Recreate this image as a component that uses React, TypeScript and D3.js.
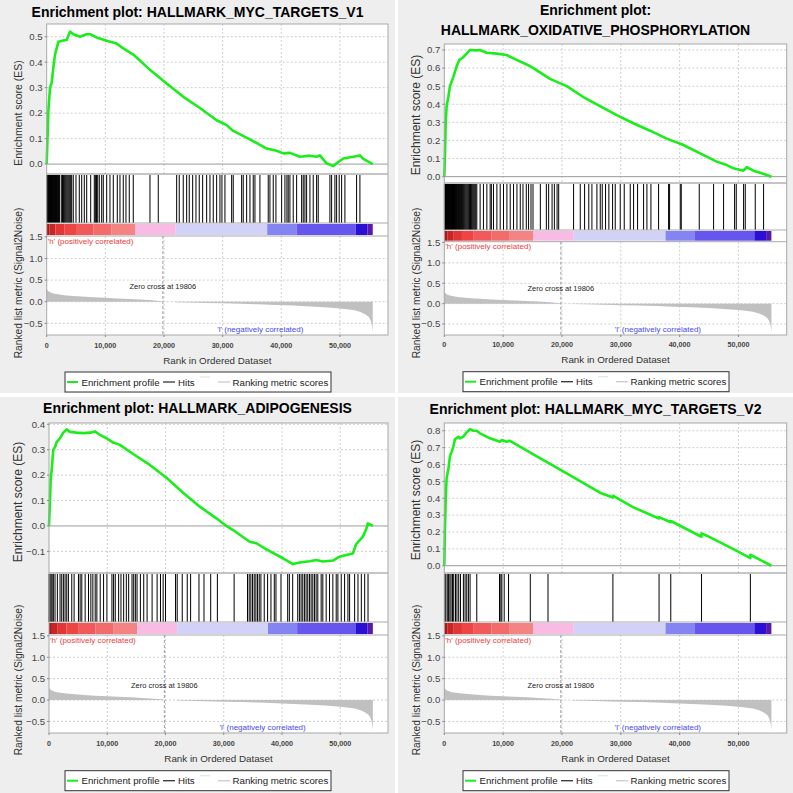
import React from 'react';
import * as d3 from 'd3';

const FONT = "'Liberation Sans', Arial, sans-serif";
const X_MAX = 58200;
const N_GENES = 55600;
const ZERO_CROSS = 19806;
const xTickValues = [0, 10000, 20000, 30000, 40000, 50000];
const metricTickValues = [1.5, 1.0, 0.5, 0.0, -0.5];
const metricDomain: [number, number] = [-0.77, 1.52];

// Ranked list metric (Signal2Noise), shared by all panels
const metricRanks = [0, 150, 400, 800, 1300, 2000, 3000, 4500, 6000, 8000, 10000, 12000, 14000, 16000, 18000, 19700, 19806, 21900, 22000, 24000, 27000, 30000, 33000, 36000, 39000, 42000, 45000, 48000, 50000, 51500, 52500, 53500, 54300, 54900, 55200, 55400, 55500, 55600];
const metricValues = [0.30, 0.26, 0.23, 0.205, 0.185, 0.17, 0.152, 0.135, 0.12, 0.103, 0.09, 0.077, 0.064, 0.05, 0.033, 0.012, 0.0, 0.0, -0.01, -0.017, -0.027, -0.037, -0.048, -0.06, -0.074, -0.09, -0.108, -0.135, -0.155, -0.18, -0.2, -0.24, -0.29, -0.35, -0.42, -0.5, -0.58, -0.7];

// Colour bar of the ranked list
const barStarts = [0, 500, 1500, 3000, 5000, 8000, 11000, 15150, 22000, 37600, 42600, 52700, 54700];
const barColors = ['#a81818', '#c82626', '#e03636', '#ee4444', '#f05a5a', '#f26c6c', '#f48484', '#f8bce4', '#d2d2f8', '#8484f2', '#6656ee', '#2a10d4', '#5a1aa8'];

// HALLMARK_MYC_TARGETS_V1
const myc1EsRanks = [0, 284, 568, 852, 1136, 1420, 1989, 2841, 3409, 3977, 4545, 5682, 6818, 7386, 8523, 10227, 11932, 13068, 14773, 17614, 20455, 23295, 26136, 28977, 30682, 31818, 34659, 37500, 39205, 40341, 41477, 43182, 44886, 46023, 46591, 47727, 48864, 49432, 50568, 52273, 53409, 53977, 55600];
const myc1EsValues = [0, 0.21, 0.30, 0.32, 0.38, 0.43, 0.48, 0.485, 0.487, 0.52, 0.51, 0.50, 0.51, 0.51, 0.497, 0.484, 0.473, 0.454, 0.43, 0.37, 0.316, 0.264, 0.22, 0.172, 0.153, 0.13, 0.097, 0.061, 0.052, 0.042, 0.044, 0.029, 0.033, 0.029, 0.034, 0.003, -0.008, 0.003, 0.022, 0.029, 0.034, 0.02, 0];
const myc1Hits = [30, 110, 190, 260, 340, 420, 500, 580, 650, 730, 810, 890, 960, 1040, 1120, 1200, 1280, 1360, 1440, 1520, 1600, 1690, 1780, 1870, 1960, 2050, 2140, 2230, 2557, 2700, 2850, 3000, 3150, 3300, 3460, 3620, 3780, 3940, 4100, 4262, 4535, 4995, 5557, 5967, 6410, 6819, 7501, 8115, 8300, 8500, 8700, 8967, 9376, 9649, 10228, 10791, 11354, 12036, 12496, 13058, 13519, 14081, 14763, 17610, 19025, 22162, 22605, 23287, 23867, 24310, 24890, 25452, 26015, 26594, 27276, 27839, 28401, 28981, 29543, 29884, 30396, 31538, 31810, 33242, 33515, 34095, 34657, 35220, 35510, 36362, 37777, 38067, 38630, 39090, 40062, 40624, 40965, 41187, 41476, 42039, 42619, 43471, 43744, 44034, 44323, 44886, 45449, 46028, 46301, 48296, 48585, 49148, 49437, 49881, 50290, 50852, 52847, 53410];

// HALLMARK_OXIDATIVE_PHOSPHORYLATION
const oxEsRanks = [0, 113, 227, 397, 680, 964, 1531, 2098, 2551, 3231, 3798, 4365, 5499, 6066, 7200, 8900, 10601, 12302, 14002, 15136, 17971, 20805, 23639, 26474, 29308, 32143, 34977, 37812, 40646, 43481, 46315, 48016, 49150, 50850, 51417, 52551, 53685, 54819, 55600];
const oxEsValues = [0, 0.11, 0.29, 0.39, 0.44, 0.50, 0.55, 0.61, 0.645, 0.66, 0.68, 0.70, 0.698, 0.70, 0.685, 0.68, 0.672, 0.645, 0.62, 0.60, 0.54, 0.50, 0.44, 0.39, 0.34, 0.295, 0.254, 0.21, 0.175, 0.129, 0.083, 0.064, 0.046, 0.033, 0.052, 0.033, 0.022, 0.009, 0];
const oxHits = [20, 90, 160, 230, 300, 370, 440, 510, 580, 650, 720, 790, 860, 930, 1000, 1080, 1160, 1240, 1320, 1400, 1480, 1560, 1640, 1720, 1800, 1880, 1960, 2040, 2120, 2200, 2300, 2400, 2500, 2600, 2700, 2800, 2900, 3000, 3120, 3240, 3400, 3550, 3700, 3850, 4000, 4150, 4300, 4450, 4600, 4750, 4900, 5050, 5200, 5350, 5526, 6089, 6652, 7232, 7795, 8000, 8358, 8938, 9500, 10063, 10643, 11206, 11769, 12349, 12912, 13372, 13935, 14327, 14737, 15078, 16323, 17347, 17738, 18318, 18710, 19171, 19444, 21976, 23109, 23845, 24560, 25092, 25942, 26508, 26846, 27409, 27972, 28604, 29057, 29907, 30587, 31607, 32173, 32853, 33873, 34440, 35120, 36423, 38123, 38293, 40106, 40276, 43336, 45772, 47472, 49342, 49625, 50872, 51155, 52855, 54271];

// HALLMARK_ADIPOGENESIS
const adEsRanks = [0, 171, 286, 457, 743, 1029, 1314, 1886, 2457, 3029, 3600, 4743, 5886, 7029, 7886, 8743, 9886, 11029, 12171, 14457, 17314, 20171, 23029, 25886, 28743, 30457, 31600, 34457, 35600, 37314, 40171, 41886, 43029, 44743, 45886, 47029, 48743, 49886, 51029, 52171, 52743, 53886, 54457, 54743, 55600];
const adEsValues = [0, 0.10, 0.18, 0.22, 0.30, 0.31, 0.33, 0.345, 0.367, 0.38, 0.37, 0.367, 0.365, 0.367, 0.372, 0.358, 0.345, 0.328, 0.319, 0.283, 0.24, 0.19, 0.131, 0.076, 0.03, 0, -0.016, -0.062, -0.068, -0.092, -0.127, -0.15, -0.144, -0.139, -0.134, -0.14, -0.136, -0.121, -0.114, -0.108, -0.071, -0.042, -0.013, 0.01, 0];
const adHits = [0, 180, 360, 540, 747, 1034, 1437, 1897, 2184, 2471, 2759, 3046, 3333, 3908, 4310, 5057, 5345, 5632, 6207, 6782, 7184, 7529, 7931, 8218, 8793, 9368, 9943, 10805, 11092, 11379, 11954, 12356, 12816, 13276, 13678, 14253, 14540, 14828, 15115, 15690, 16264, 16839, 17701, 18563, 19138, 19598, 20000, 21724, 22011, 22874, 23736, 24310, 25747, 26609, 27759, 28908, 31782, 34080, 34368, 34655, 34943, 35230, 35517, 35805, 36092, 36379, 36954, 37529, 38103, 38678, 38966, 39828, 40977, 41264, 41839, 42701, 42989, 43276, 43563, 43851, 44138, 44425, 44713, 45000, 45287, 45575, 45862, 46149, 46724, 47011, 47586, 48161, 48736, 49310, 49598, 50172, 50747, 51322, 51609, 52471, 53046, 53621, 54195, 54770];

// HALLMARK_MYC_TARGETS_V2
const myc2EsRanks = [0, 113, 227, 397, 680, 964, 1247, 1531, 1814, 2381, 2664, 3231, 3798, 4365, 4932, 5499, 6066, 7766, 9467, 9751, 10601, 11168, 15136, 20805, 26474, 28650, 28660, 32143, 36490, 36500, 38480, 38494, 43715, 43725, 44615, 49150, 52015, 52025, 55600];
const myc2EsValues = [0, 0.21, 0.39, 0.52, 0.57, 0.65, 0.675, 0.705, 0.75, 0.765, 0.755, 0.765, 0.79, 0.81, 0.80, 0.80, 0.785, 0.755, 0.735, 0.745, 0.735, 0.74, 0.66, 0.547, 0.433, 0.405, 0.415, 0.346, 0.28, 0.288, 0.258, 0.265, 0.172, 0.192, 0.178, 0.099, 0.045, 0.065, 0];
const myc2Hits = [60, 250, 500, 700, 950, 1150, 1400, 1600, 1900, 2150, 2450, 2750, 3246, 3530, 3814, 4098, 4383, 5520, 9386, 9613, 9784, 10182, 10921, 14616, 17629, 28658, 36504, 38494, 43725, 52025];

type PanelSpec = {
  ox: number; oy: number; w: number; h: number;
  title: string[]; titleYs: number[];
  plotLeft: number; plotRight: number;
  esTop: number; esBottom: number; hitsBottom: number; barBottom: number; metricBottom: number;
  esDomain: [number, number]; esTicks: number[];
  esRanks: number[]; esValues: number[]; hits: number[];
  esTitleSize: number; esTitleY: number;
  tickLabelY: number; xTitleY: number; legendTop: number;
};

const panels: PanelSpec[] = [
  {
    ox: 0, oy: 0, w: 395, h: 393,
    title: ['Enrichment plot: HALLMARK_MYC_TARGETS_V1'], titleYs: [12],
    plotLeft: 46.7, plotRight: 388, esTop: 24, esBottom: 174, hitsBottom: 223, barBottom: 236, metricBottom: 335,
    esDomain: [-0.039, 0.55], esTicks: [0, 0.1, 0.2, 0.3, 0.4, 0.5],
    esRanks: myc1EsRanks, esValues: myc1EsValues, hits: myc1Hits,
    esTitleSize: 10.5, esTitleY: 113, tickLabelY: 347.5, xTitleY: 363.5, legendTop: 372,
  },
  {
    ox: 398, oy: 0, w: 395, h: 393,
    title: ['Enrichment plot:', 'HALLMARK_OXIDATIVE_PHOSPHORYLATION'], titleYs: [10, 30],
    plotLeft: 46.3, plotRight: 388.7, esTop: 44, esBottom: 183, hitsBottom: 230, barBottom: 241.7, metricBottom: 335,
    esDomain: [-0.035, 0.733], esTicks: [0, 0.1, 0.2, 0.3, 0.4, 0.5, 0.6, 0.7],
    esRanks: oxEsRanks, esValues: oxEsValues, hits: oxHits,
    esTitleSize: 12, esTitleY: 115, tickLabelY: 347, xTitleY: 362.5, legendTop: 371.7,
  },
  {
    ox: 0, oy: 397, w: 395, h: 396,
    title: ['Enrichment plot: HALLMARK_ADIPOGENESIS'], titleYs: [11],
    plotLeft: 49, plotRight: 388, esTop: 26, esBottom: 176, hitsBottom: 225, barBottom: 238, metricBottom: 336,
    esDomain: [-0.185, 0.405], esTicks: [-0.1, 0, 0.1, 0.2, 0.3, 0.4],
    esRanks: adEsRanks, esValues: adEsValues, hits: adHits,
    esTitleSize: 12, esTitleY: 105, tickLabelY: 349, xTitleY: 365, legendTop: 373.7,
  },
  {
    ox: 398, oy: 397, w: 395, h: 396,
    title: ['Enrichment plot: HALLMARK_MYC_TARGETS_V2'], titleYs: [12],
    plotLeft: 46.3, plotRight: 388.7, esTop: 26, esBottom: 176, hitsBottom: 225, barBottom: 238, metricBottom: 336,
    esDomain: [-0.043, 0.846], esTicks: [0, 0.1, 0.2, 0.3, 0.4, 0.5, 0.6, 0.7, 0.8],
    esRanks: myc2EsRanks, esValues: myc2EsValues, hits: myc2Hits,
    esTitleSize: 12, esTitleY: 103, tickLabelY: 349, xTitleY: 365, legendTop: 373.7,
  },
];

const fmt1 = d3.format('.1f');
const fmtX = d3.format(',');

function Panel({ s }: { s: PanelSpec }) {
  const x = d3.scaleLinear().domain([0, X_MAX]).range([s.plotLeft, s.plotRight]);
  const yEs = d3.scaleLinear().domain(s.esDomain).range([s.esBottom, s.esTop]);
  const yM = d3.scaleLinear().domain(metricDomain).range([s.metricBottom, s.barBottom]);
  const esLine = d3.line<number>().x((_, i) => x(s.esRanks[i])).y((v) => yEs(v));
  const metricArea = d3.area<number>().x((_, i) => x(metricRanks[i])).y0(yM(0)).y1((v) => yM(v));
  const gridColor = '#cfcfcf';
  const borderColor = '#a8a8a8';
  const cx = s.w / 2;
  const plotCx = (s.plotLeft + s.plotRight) / 2;
  const lg = s.legendTop;
  const lgLeft = 65;
  return (
    <g transform={`translate(${s.ox},${s.oy})`} fontFamily={FONT}>
      <rect x={0} y={0} width={s.w} height={s.h} fill="#eeeeee" />
      <rect x={s.plotLeft} y={s.esTop} width={s.plotRight - s.plotLeft} height={s.metricBottom - s.esTop} fill="#ffffff" />
      {/* ES grid */}
      {xTickValues.slice(1).map((t) => (
        <line key={'gx' + t} x1={x(t)} x2={x(t)} y1={s.esTop} y2={s.esBottom} stroke={gridColor} strokeDasharray="2,2" />
      ))}
      {s.esTicks.filter((t) => Math.abs(t) > 1e-9).map((t) => (
        <line key={'gy' + t} x1={s.plotLeft} x2={s.plotRight} y1={yEs(t)} y2={yEs(t)} stroke={gridColor} strokeDasharray="2,2" />
      ))}
      <line x1={s.plotLeft} x2={s.plotRight} y1={yEs(0)} y2={yEs(0)} stroke="#9a9a9a" strokeWidth={1} />
      {/* metric grid */}
      {xTickValues.slice(1).map((t) => (
        <line key={'mx' + t} x1={x(t)} x2={x(t)} y1={s.barBottom} y2={s.metricBottom} stroke={gridColor} strokeDasharray="2,2" />
      ))}
      {metricTickValues.slice(1).map((t) => (
        <line key={'my' + t} x1={s.plotLeft} x2={s.plotRight} y1={yM(t)} y2={yM(t)} stroke={gridColor} strokeDasharray="2,2" />
      ))}
      {/* metric area */}
      <path d={metricArea(metricValues) || ''} fill="#c0c0c0" stroke="none" />
      <line x1={x(ZERO_CROSS)} x2={x(ZERO_CROSS)} y1={s.barBottom} y2={s.metricBottom} stroke="#a0a0a0" strokeDasharray="3,2" />
      <text x={x(ZERO_CROSS)} y={yM(0) - 12.5} fontSize={7.5} fill="#222" textAnchor="middle">Zero cross at {ZERO_CROSS}</text>
      <text x={s.plotLeft + 1} y={s.barBottom + 7.5} fontSize={8} fill="#f03c3c">'h' (positively correlated)</text>
      <text x={s.plotLeft + 170.5} y={s.metricBottom - 3.5} fontSize={8} fill="#4848f0">'l' (negatively correlated)</text>
      {/* hits */}
      {s.hits.map((r, i) => (
        <line key={'h' + i} x1={x(r)} x2={x(r)} y1={s.esBottom + 1} y2={s.hitsBottom} stroke="#000" strokeWidth={1} />
      ))}
      {/* colour bar */}
      {barStarts.map((b, i) => {
        const e = i + 1 < barStarts.length ? barStarts[i + 1] : N_GENES;
        return <rect key={'b' + i} x={x(b)} y={s.hitsBottom + 1} width={x(e) - x(b)} height={s.barBottom - s.hitsBottom - 2} fill={barColors[i]} />;
      })}
      {/* ES curve */}
      <path d={esLine(s.esValues) || ''} fill="none" stroke="#1aee1a" strokeWidth={2.6} strokeLinejoin="round" />
      {/* borders */}
      <line x1={s.plotLeft} x2={s.plotRight} y1={s.esBottom} y2={s.esBottom} stroke="#8a8a8a" />
      <line x1={s.plotLeft} x2={s.plotRight} y1={s.hitsBottom} y2={s.hitsBottom} stroke={borderColor} />
      <line x1={s.plotLeft} x2={s.plotRight} y1={s.barBottom} y2={s.barBottom} stroke={borderColor} />
      <rect x={s.plotLeft} y={s.esTop} width={s.plotRight - s.plotLeft} height={s.metricBottom - s.esTop} fill="none" stroke={borderColor} />
      {/* ES axis */}
      {s.esTicks.map((t) => (
        <g key={'et' + t}>
          <line x1={s.plotLeft - 2} x2={s.plotLeft} y1={yEs(t)} y2={yEs(t)} stroke="#888" />
          <text x={s.plotLeft - 4} y={yEs(t)} dy="0.35em" fontSize={9.6} fill="#444" textAnchor="end">{fmt1(t)}</text>
        </g>
      ))}
      {metricTickValues.map((t) => (
        <g key={'mt' + t}>
          <line x1={s.plotLeft - 2} x2={s.plotLeft} y1={yM(t)} y2={yM(t)} stroke="#888" />
          <text x={s.plotLeft - 4} y={yM(t)} dy="0.35em" fontSize={9.6} fill="#444" textAnchor="end">{fmt1(t)}</text>
        </g>
      ))}
      {xTickValues.map((t) => (
        <g key={'xt' + t}>
          <line x1={x(t)} x2={x(t)} y1={s.metricBottom} y2={s.metricBottom + 2} stroke="#888" />
          <text x={x(t)} y={s.tickLabelY} fontSize={7.2} fontWeight="bold" fill="#444" textAnchor="middle">{fmtX(t)}</text>
        </g>
      ))}
      <text transform={`translate(17.5,${s.esTitleY}) rotate(-90)`} fontSize={s.esTitleSize} fill="#333" textAnchor="middle" dominantBaseline="central">Enrichment score (ES)</text>
      <text transform={`translate(18,283) rotate(-90)`} fontSize={10.2} fill="#333" textAnchor="middle" dominantBaseline="central">Ranked list metric (Signal2Noise)</text>
      <text x={plotCx} y={s.xTitleY} fontSize={9.8} fill="#333" textAnchor="middle">Rank in Ordered Dataset</text>
      {s.title.map((t, i) => (
        <text key={'t' + i} x={cx} y={s.titleYs[i]} dy="0.36em" fontSize={14} fontWeight="bold" fill="#000" textAnchor="middle">{t}</text>
      ))}
      {/* legend */}
      <rect x={lgLeft} y={lg} width={266} height={20} fill="#fff" stroke="#333" />
      <line x1={lgLeft + 2} x2={lgLeft + 13} y1={lg + 10} y2={lg + 10} stroke="#1aee1a" strokeWidth={2} />
      <text x={lgLeft + 16.5} y={lg + 13.5} fontSize={9.7} fill="#222">Enrichment profile</text>
      <line x1={lgLeft + 98} x2={lgLeft + 110} y1={lg + 10} y2={lg + 10} stroke="#333" strokeWidth={1.3} />
      <text x={lgLeft + 113} y={lg + 13.5} fontSize={9.7} fill="#222">Hits</text>
      <line x1={lgLeft + 135} x2={lgLeft + 145} y1={lg + 5} y2={lg + 5} stroke="#e6e6e6" strokeWidth={1.3} />
      <line x1={lgLeft + 153} x2={lgLeft + 165} y1={lg + 10} y2={lg + 10} stroke="#cccccc" strokeWidth={1.3} />
      <text x={lgLeft + 167.5} y={lg + 13.5} fontSize={9.7} fill="#222">Ranking metric scores</text>
    </g>
  );
}

export default function App() {
  return (
    <div style={{ position: 'absolute', left: 0, top: 0, width: 793, height: 793, background: '#fff' }}>
      <svg width={793} height={793} viewBox="0 0 793 793" style={{ display: 'block' }}>
        <rect x={0} y={0} width={793} height={793} fill="#ffffff" />
        {panels.map((p, i) => (
          <Panel key={i} s={p} />
        ))}
      </svg>
    </div>
  );
}
